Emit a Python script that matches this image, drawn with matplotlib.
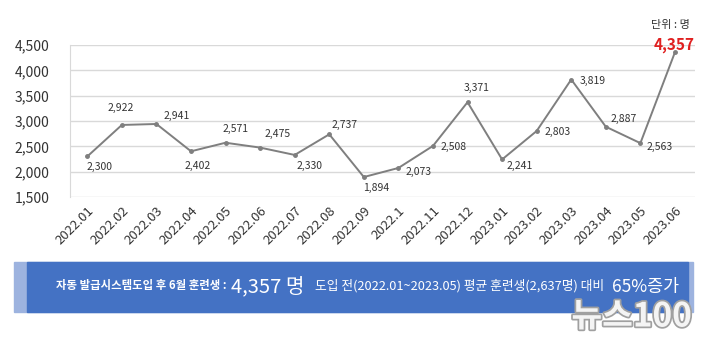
import matplotlib
matplotlib.use("Agg")
import matplotlib.pyplot as plt
import matplotlib.patheffects as pe
from matplotlib.patches import Rectangle

plt.rcParams['font.family'] = ['Noto Sans CJK KR', 'DejaVu Sans']

months = ['2022.01', '2022.02', '2022.03', '2022.04', '2022.05', '2022.06',
          '2022.07', '2022.08', '2022.09', '2022.1', '2022.11', '2022.12',
          '2023.01', '2023.02', '2023.03', '2023.04', '2023.05', '2023.06']
trainees = [2300, 2922, 2941, 2402, 2571, 2475, 2330, 2737, 1894, 2073,
            2508, 3371, 2241, 2803, 3819, 2887, 2563, 4357]
y_ticks = [1500, 2000, 2500, 3000, 3500, 4000, 4500]

# label offsets in pixels
offsets = [(12, -11), (-1, 17), (20, 8), (7, -15), (10, 14), (17, 14),
           (15, -11), (15, 9), (12, -11), (20, -4), (21, -1), (9, 14),
           (18, -7), (21, -1), (21, -1), (18, 8), (19, -4), (-1, 7)]

fig = plt.figure(figsize=(7.13, 3.47), dpi=100)
ax = fig.add_axes([70 / 713, 1 - 197 / 347, 625 / 713, 152 / 347])

x = list(range(len(months)))
ax.plot(x, trainees, color='#7f7f7f', lw=1.4, marker='o', ms=2.5,
        zorder=3)

for i, v in enumerate(trainees):
    dx, dy = offsets[i]
    last = i == len(trainees) - 1
    ax.annotate(f'{v:,}', (i, v), xytext=(dx, dy), textcoords='offset pixels',
                ha='center', va='center',
                fontsize=11 if last else 7.5,
                fontweight='bold' if last else 'normal',
                color='#e02020' if last else '#333333', zorder=4)

ax.set_ylim(1500, 4500)
ax.set_xlim(-0.5, 17.58)
ax.set_yticks(y_ticks)
ax.set_yticklabels([f'{t:,}' for t in y_ticks], fontsize=10, color='#333333')
ax.set_xticks(x)
ax.set_xticklabels(months, rotation=45, ha='right', rotation_mode='anchor',
                   fontsize=9.5, color='#333333')
ax.tick_params(axis='both', length=0)
ax.tick_params(axis='y', pad=15)
ax.tick_params(axis='x', pad=5)
ax.grid(axis='y', color='#d9d9d9', lw=1)
ax.set_axisbelow(True)
for side in ['top', 'right', 'bottom']:
    ax.spines[side].set_visible(False)
ax.spines['left'].set_color('#d9d9d9')

fig.text(690 / 713, 1 - 25 / 347, '단위 : 명', ha='right', va='center',
         fontsize=8, color='#333333')

# summary banner
fig.patches.append(Rectangle((14 / 713, 1 - 312 / 347), 679 / 713, 50 / 347,
                             transform=fig.transFigure, color='#9db3df',
                             zorder=1))
fig.patches.append(Rectangle((27 / 713, 1 - 312 / 347), 661 / 713, 50 / 347,
                             transform=fig.transFigure, color='#4472c4',
                             zorder=2))
by = 1 - 286 / 347
fig.text(226 / 713, by, '자동 발급시스템도입 후 6월 훈련생 :', ha='right',
         va='center', fontsize=8.2, fontweight='bold', color='white')
fig.text(231 / 713, by - 0.004, '4,357 명', ha='left', va='center',
         fontsize=14.5, color='white')
fig.text(315 / 713, by, '도입 전(2022.01~2023.05) 평균 훈련생(2,637명) 대비',
         ha='left', va='center', fontsize=9.2, color='white')
fig.text(679 / 713, by - 0.004, '65%증가', ha='right', va='center',
         fontsize=12.5, color='white')

wm = fig.text(692 / 713, 1 - 317 / 347, '뉴스100', ha='right', va='center',
              fontsize=24, fontweight='bold', color='#f4f4f4')
wm.set_path_effects([pe.withStroke(linewidth=2.5, foreground='#a0a0a0')])

fig.savefig('out.png', dpi=100)
